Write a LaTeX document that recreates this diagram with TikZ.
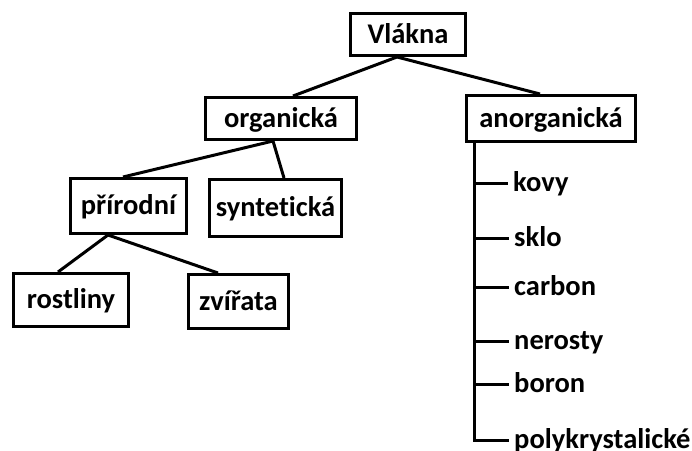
\documentclass[tikz,border=0pt]{standalone}
\usepackage{fontspec}
\setmainfont{Carlito}[Ligatures=NoCommon]
\begin{document}
\begin{tikzpicture}[x=1pt,y=-1pt,
  every node/.style={font=\fontsize{28.5}{32}\selectfont\bfseries, inner sep=0pt},
  box/.style={draw, line width=3pt, text height=17pt, text depth=0pt},
  leaf/.style={anchor=base west},
  conn/.style={line width=3pt}]
\useasboundingbox[fill=white] (0,0) rectangle (692,450);
\node[box, minimum width=115pt, minimum height=42pt] (v) at (408,34.5) {Vlákna};
\node[box, minimum width=151pt, minimum height=42pt] (o) at (281,118.5) {organická};
\node[box, minimum width=169pt, minimum height=46pt] (a) at (551,118.5) {anorganická};
\node[box, minimum width=116pt, minimum height=55pt] (p) at (128.5,206) {přírodní};
\node[box, minimum width=132pt, minimum height=57pt] (s) at (275.5,208) {syntetická};
\node[box, minimum width=115pt, minimum height=53pt] (r) at (71,300) {rostliny};
\node[box, minimum width=100pt, minimum height=54pt] (z) at (238.5,301.5) {zvířata};
\node[leaf] (k1) at (513,191) {kovy};
\node[leaf] (k2) at (514,246) {sklo};
\node[leaf] (k3) at (514,295) {carbon};
\node[leaf] (k4) at (514,349) {nerosty};
\node[leaf] (k5) at (514,392.5) {boron};
\node[leaf] (k6) at (514,448.5) {polykrystalické};
% connectors
\draw[conn] ([xshift=-11pt]v.south) -- ([xshift=12pt]o.north);
\draw[conn] ([xshift=-11pt]v.south) -- ([xshift=-11pt]a.north);
\draw[conn] ([xshift=-8pt]o.south) -- ([xshift=-5.5pt]p.north);
\draw[conn] ([xshift=-8pt]o.south) -- ([xshift=8.5pt]s.north);
\draw[conn] ([xshift=-20.5pt]p.south) -- ([xshift=-13pt]r.north);
\draw[conn] ([xshift=-20.5pt]p.south) -- ([xshift=-20.5pt]z.north);
\coordinate (t) at ([xshift=-77pt]a.south);
\foreach \k in {k1,k2,k3,k4,k5,k6}
  \coordinate (e\k) at ([xshift=-5pt,yshift=8pt]\k.base west);
\draw[conn] (t) |- (ek6);
\foreach \k in {k1,k2,k3,k4,k5}
  \draw[conn] (t |- e\k) -- (e\k);
\end{tikzpicture}
\end{document}
